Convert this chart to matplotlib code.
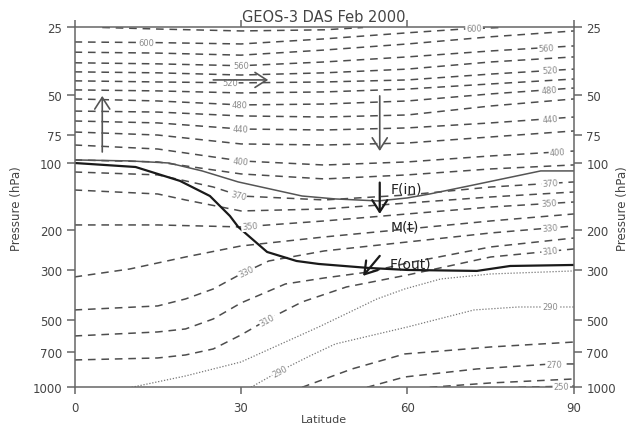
import numpy as np
import matplotlib.pyplot as plt
from matplotlib.ticker import NullLocator, NullFormatter

# isentropes (K): latitude (deg N) and pressure (hPa)
lat7 = [0, 15, 30, 45, 60, 75, 90]

th620_lat = [5, 15, 30, 45, 52]
th620_p = [25, 25.4, 25.9, 25.6, 25]
th600_lat = [0, 15, 30, 45, 60, 70, 77]
th600_p = [29.0, 29.2, 29.6, 28.1, 26.4, 25.4, 25]
th580_p = [32.2, 32.5, 33.2, 31.5, 29.6, 27.5, 25.9]
th560_p = [35.9, 36.3, 37.0, 35.6, 33.8, 31.8, 30.2]
th540_p = [39.4, 39.8, 40.7, 39.8, 38.3, 35.6, 33.8]
th520_p = [43.2, 43.7, 44.1, 43.7, 42.8, 40.3, 38.3]
th500_p = [47.4, 47.9, 48.9, 48.4, 47.0, 44.6, 42.4]
th480_p = [52.0, 53.1, 55.3, 54.8, 53.1, 49.4, 46.5]
th460_p = [58.9, 59.5, 61.9, 62.6, 61.3, 55.9, 52.0]
th440_p = [65.2, 66.5, 70.8, 71.5, 70.0, 66.5, 62.6]
th420_p = [73.0, 75.3, 82.5, 83.4, 81.7, 76.8, 72.2]
th400_p = [83.4, 86.9, 98.2, 102.4, 99.2, 93.3, 88.7]
th380_p = [97.2, 99.2, 112.2, 118.1, 113.3, 106.6, 102.3]

th370_lat = [0, 15, 20, 25, 30, 45, 60, 75, 90]
th370_p = [110.0, 113.3, 120.5, 128.3, 140.7, 146.5, 139.2, 128.3, 121.8]
th360_lat = [0, 15, 20, 30, 45, 60, 75, 90]
th360_p = [132.3, 137.8, 146.5, 164.0, 160.7, 151.2, 142.1, 135.0]
th350_p = [189.3, 189.3, 193.2, 181.7, 169.1, 157.5, 149.6]
th340_lat = [0, 10, 20, 30, 45, 60, 75, 90]
th340_p = [322.6, 297.2, 262.9, 234.8, 214.1, 197.3, 181.7, 169.1]
th330_lat = [0, 15, 20, 25, 30, 35, 45, 60, 75, 90]
th330_p = [452.5, 434.3, 404.3, 364.9, 312.9, 273.9, 247.1, 225.4, 205.5, 191.3]
th320_lat = [0, 15, 20, 25, 30, 38, 45, 53, 60, 75, 90]
th320_p = [590.8, 567.0, 549.9, 496.3, 421.2, 346.7, 326.0, 306.6, 279.6, 237.2, 216.4]
th310_lat = [0, 15, 20, 25, 30, 35, 41, 49, 60, 75, 90]
th310_p = [755.6, 740.3, 717.9, 675.0, 584.8, 496.3, 416.9, 357.5, 316.2, 262.9, 242.1]
th300_lat = [10.3, 20, 30, 40, 44, 50, 54.5, 59.5, 66, 75, 90]
th300_p = [1000, 890.4, 771.4, 597.0, 538.8, 457.4, 404.3, 364.9, 329.3, 312.9, 303.3]
th290_lat = [31.8, 37, 42.4, 47, 60, 72, 80, 90]
th290_p = [1000, 846.0, 725.3, 641.3, 538.8, 452.5, 439.0, 439.0]
th280_lat = [41, 50, 59.5, 66, 75, 90]
th280_p = [1000, 828.6, 710.5, 689.8, 661.3, 628.7]
th270_lat = [52.7, 59.5, 72.5, 86, 90]
th270_p = [1000, 899.6, 828.6, 787.2, 787.2]
th260_lat = [64, 75, 90]
th260_p = [1000, 956.4, 918.1]
th250_lat = [80, 90]
th250_p = [1000, 987.0]

# thick line (tropopause) and thin line
trop_lat = [0, 11, 19, 24.4, 28, 29.5, 32, 34.7, 40, 44, 53, 60, 72.5, 78.5, 90]
trop_p = [100.3, 104.5, 120.5, 140.7, 172.6, 193.2, 218.6, 249.7, 273.9, 282.4,
          294.2, 300.3, 303.3, 288.3, 285.3]
thin_lat = [0, 10, 17, 23, 29.5, 41, 47, 54.7, 60, 64, 71, 84, 90]
thin_p = [97.2, 98.2, 100.3, 108.8, 121.8, 140.7, 145.0, 148.0, 143.5, 137.8,
          127.0, 108.8, 108.8]

p_ticks = [25, 50, 75, 100, 200, 300, 500, 700, 1000]
lat_ticks = [0, 30, 60, 90]

# contour labels: level and latitude where it sits
label_levels = [600, 600, 560, 520, 480, 440, 400, 370, 350, 330, 310, 290,
                560, 520, 480, 440, 400, 370, 350, 330, 310, 290, 270, 250]
label_lats = [13, 72, 30, 28, 29.7, 30, 30, 29.5, 31.6, 31, 34.7, 37,
              85, 85.7, 85.5, 85.7, 87, 85.7, 85.5, 85.7, 85.7, 85.7, 86.4, 87.7]

lines = {
    620: (th620_lat, th620_p), 600: (th600_lat, th600_p),
    580: (lat7, th580_p), 560: (lat7, th560_p), 540: (lat7, th540_p),
    520: (lat7, th520_p), 500: (lat7, th500_p), 480: (lat7, th480_p),
    460: (lat7, th460_p), 440: (lat7, th440_p), 420: (lat7, th420_p),
    400: (lat7, th400_p), 380: (lat7, th380_p),
    370: (th370_lat, th370_p), 360: (th360_lat, th360_p), 350: (lat7, th350_p),
    340: (th340_lat, th340_p), 330: (th330_lat, th330_p), 320: (th320_lat, th320_p),
    310: (th310_lat, th310_p), 300: (th300_lat, th300_p), 290: (th290_lat, th290_p),
    280: (th280_lat, th280_p), 270: (th270_lat, th270_p), 260: (th260_lat, th260_p),
    250: (th250_lat, th250_p),
}
dotted = [300, 290]

fig = plt.figure(figsize=(6.32, 4.31), dpi=100)
ax = fig.add_axes([0.1179, 0.0991, 0.7903, 0.8348])
ax.set_yscale('log')
ax.set_xlim(0, 90)
ax.set_ylim(1000, 25)

for lev, (la, pp) in lines.items():
    if lev in dotted:
        ax.plot(la, pp, color='#777777', lw=0.9, dashes=(1, 1.4))
    else:
        ax.plot(la, pp, color='#4d4d4d', lw=1.1, dashes=(5, 3.8))

ax.plot(thin_lat, thin_p, color='#555555', lw=1.1)
ax.plot(trop_lat, trop_p, color='#1a1a1a', lw=1.6)

# contour labels on the lines
for lev, lat0 in zip(label_levels, label_lats):
    la, pp = lines[lev]
    lp = np.log10(pp)
    p0 = 10 ** np.interp(lat0, la, lp)
    a = ax.transData.transform([(lat0 - 1.5, 10 ** np.interp(lat0 - 1.5, la, lp)),
                                (lat0 + 1.5, 10 ** np.interp(lat0 + 1.5, la, lp))])
    ang = np.degrees(np.arctan2(a[1, 1] - a[0, 1], a[1, 0] - a[0, 0]))
    ax.text(lat0, p0, str(lev), fontsize=6, color='#8a8a8a', rotation=ang,
            rotation_mode='anchor', ha='center', va='center',
            bbox=dict(facecolor='white', edgecolor='none', pad=0.6))

# arrows
gray = dict(arrowstyle='->,head_length=0.7,head_width=0.45', color='#555555',
            lw=1.2, mutation_scale=12, shrinkA=0, shrinkB=0)
dark = dict(arrowstyle='->,head_length=0.7,head_width=0.45', color='#1a1a1a',
            lw=1.6, mutation_scale=12, shrinkA=0, shrinkB=0)
ax.annotate('', xy=(5, 50.4), xytext=(5, 89.6), arrowprops=gray)
ax.annotate('', xy=(34.9, 42.8), xytext=(25, 42.8), arrowprops=gray)
ax.annotate('', xy=(55, 88.7), xytext=(55, 50.4), arrowprops=gray)
ax.annotate('', xy=(55, 169), xytext=(55, 122.6), arrowprops=dark)
ax.annotate('', xy=(52, 319), xytext=(55, 260), arrowprops=dark)

ax.text(57.0, 130.9, 'F(in)', fontsize=10, color='#222222', va='center', ha='left')
ax.text(57.0, 193.2, 'M(t)', fontsize=10, color='#222222', va='center', ha='left')
ax.text(56.8, 282.4, 'F(out)', fontsize=10, color='#222222', va='center', ha='left')

# axes styling
ax.set_yticks(p_ticks)
ax.set_yticklabels([str(p) for p in p_ticks])
ax.yaxis.set_minor_locator(NullLocator())
ax.yaxis.set_minor_formatter(NullFormatter())
ax.set_xticks(lat_ticks)
ax.tick_params(axis='y', left=True, right=True, labelleft=True, labelright=True,
               direction='out', length=6, width=1.1, color='#666666',
               labelcolor='#444444', labelsize=8.5, pad=3)
ax.tick_params(axis='x', top=True, bottom=True, direction='out', length=5,
               width=1.1, color='#666666', labelcolor='#444444', labelsize=8.5, pad=5)
for s in ax.spines.values():
    s.set_color('#666666')
    s.set_linewidth(1.1)

ax.set_title('GEOS-3 DAS Feb 2000', fontsize=10.5, color='#444444', pad=5)
ax.set_xlabel('Latitude', fontsize=8, color='#444444', labelpad=0)
ax.set_ylabel('Pressure (hPa)', fontsize=8.5, color='#444444', labelpad=7)
fig.text(0.985, 0.517, 'Pressure (hPa)', fontsize=8.5, color='#444444',
         rotation=90, ha='center', va='center')

fig.savefig('out.png', dpi=100)
